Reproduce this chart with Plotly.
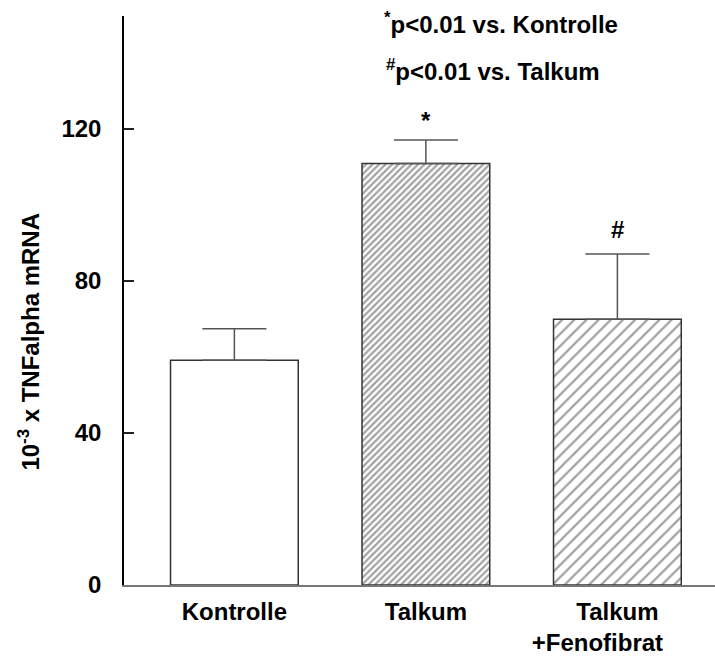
import plotly.graph_objects as go

categories = ["Kontrolle", "Talkum", "Talkum<br>+Fenofibrat" + "\u00a0" * 6]
values = [59.1, 110.9, 69.9]
errors = [8.3, 6.2, 17.2]
markers = ["", "*", "#"]
y_ticks = [0, 40, 80, 120]

x_pos = [0, 1, 2]
FONT = "Liberation Sans, Arial, sans-serif"
BOLD = dict(family=FONT, size=24, color="black", weight="bold")

fig = go.Figure()
fig.add_trace(go.Bar(
    x=x_pos, y=values, width=0.667,
    marker=dict(
        color=["white", "white", "white"],
        line=dict(color="#333333", width=1.5),
        pattern=dict(
            shape=["", "/", "/"],
            size=[8, 4.6, 8.6],
            solidity=[0.3, 0.48, 0.26],
            fgcolor="#000000",
            bgcolor="white",
            fillmode="overlay",
        ),
    ),
    error_y=dict(type="data", array=errors, arrayminus=[0, 0, 0], symmetric=False,
                 width=32, thickness=1.5, color="#555555"),
    showlegend=False,
))

shifts = [0, 4, 9]
for xi, v, e, m, s in zip(x_pos, values, errors, markers, shifts):
    if m:
        fig.add_annotation(x=xi, y=v + e, text=m, showarrow=False, xanchor="center",
                           yanchor="bottom", yshift=s, font=BOLD)

fig.add_annotation(x=0.772, y=147.8, text="<sup>*</sup>p<0.01 vs. Kontrolle", showarrow=False,
                   xanchor="left", yanchor="middle", font=BOLD)
fig.add_annotation(x=0.782, y=135.6, text="<sup>#</sup>p<0.01 vs. Talkum", showarrow=False,
                   xanchor="left", yanchor="middle", font=BOLD)

fig.add_annotation(xref="paper", yref="paper", x=-0.160, y=0.4285,
                   text="10<sup>-3</sup> x TNFalpha mRNA", textangle=-90, showarrow=False,
                   xanchor="center", yanchor="middle", font=BOLD)

fig.update_layout(
    width=715, height=657,
    margin=dict(l=124, r=0, t=16, b=72),
    paper_bgcolor="white", plot_bgcolor="white",
    font=BOLD,
)
fig.update_xaxes(
    range=[-0.5764, 2.5097], tickvals=x_pos, ticktext=categories,
    showline=True, linecolor="#777777", linewidth=1.5, ticks="",
    showgrid=False, zeroline=False, ticklabelstandoff=4,
    tickfont=BOLD,
)
fig.update_yaxes(
    range=[0, 149.7], tickvals=y_ticks, ticks="inside", ticklen=10, tickwidth=1.5,
    tickcolor="#222222", showline=True, linecolor="black", linewidth=1.5,
    showgrid=False, zeroline=False, ticklabelstandoff=16,
    tickfont=BOLD,
)

fig.write_html("out.html", config={"displayModeBar": False},
               post_script="document.body.style.margin='0';document.body.style.overflow='hidden';")
